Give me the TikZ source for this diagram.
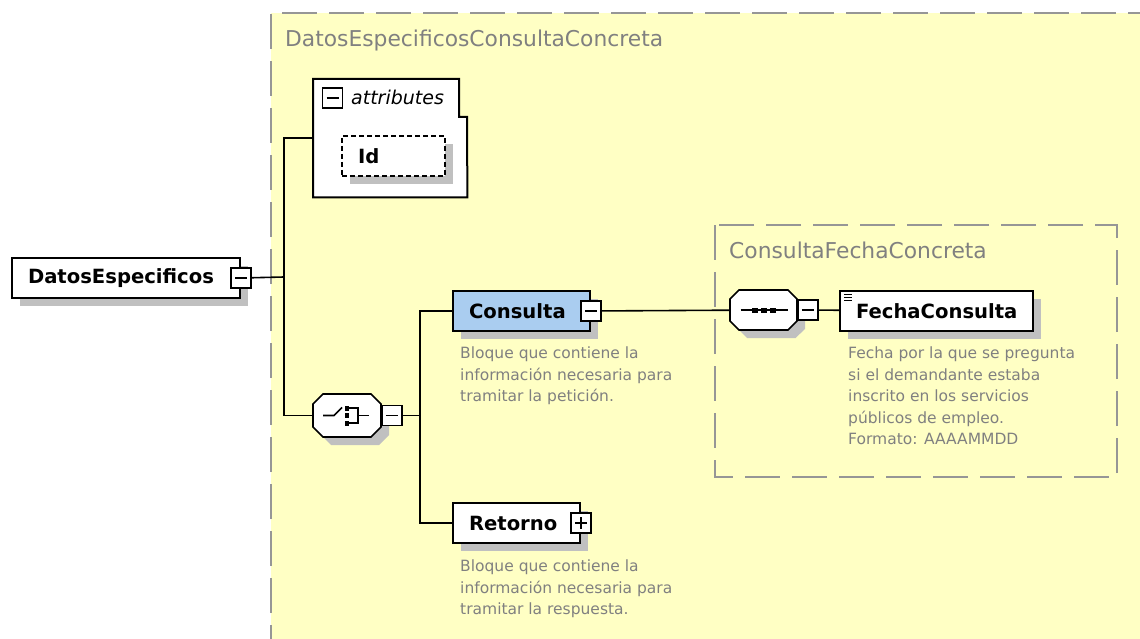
\documentclass[tikz,border=0pt]{standalone}
\usepackage{fontspec}
\setmainfont{DejaVu Sans}
\usetikzlibrary{shadows}

\definecolor{paneyellow}{RGB}{255,255,196}
\definecolor{panegray}{RGB}{150,150,150}
\definecolor{textgray}{RGB}{128,128,128}
\definecolor{shadowgray}{RGB}{192,192,192}
\definecolor{selblue}{RGB}{170,205,240}

\newcommand{\elemfont}{\bfseries\fontsize{19.6}{22}\selectfont}
\newcommand{\typefont}{\fontsize{21.8}{24}\selectfont}
\newcommand{\notefont}{\fontsize{15.5}{21.5}\selectfont}

\begin{document}
\begin{tikzpicture}[x=1pt,y=-1pt]
        \tikzstyle{elem_style} = [draw, fill=white, line width=2pt, minimum height=40pt, inner xsep=16pt, inner ysep=0pt, align=left, font=\elemfont, drop shadow={shadow xshift=8pt, shadow yshift=-8pt, opacity=1, fill=shadowgray}]
        \tikzstyle{group_style} = [inner sep=0pt, outer sep=0pt]
        \tikzstyle{minus_style} = [draw, fill=white, line width=1.6pt, minimum size=20pt, inner sep=0pt, path picture={\draw[line width=1.6pt] ([xshift=4pt]path picture bounding box.west) -- ([xshift=-4pt]path picture bounding box.east);}]
        \tikzstyle{plus_style} = [draw, fill=white, line width=1.6pt, minimum size=20pt, inner sep=0pt, path picture={\draw[line width=1.6pt] ([xshift=4pt]path picture bounding box.west) -- ([xshift=-4pt]path picture bounding box.east) ([yshift=-4pt]path picture bounding box.north) -- ([yshift=4pt]path picture bounding box.south);}]
        \tikzstyle{note_style} = [anchor=north west, inner sep=0pt, align=left, text=textgray, font=\notefont]
        \tikzstyle{title_style} = [anchor=base west, inner sep=0pt, text=textgray, font=\typefont]
        \tikzstyle{line_style} = [black, line width=1.6pt]
        \tikzstyle{pane_style} = [panegray, line width=2pt, dash pattern=on 35pt off 12pt]

        \useasboundingbox (0,0) rectangle (1140,639);

        % The yellow pane of the complex type
        \fill[paneyellow] (271,13) rectangle (1140,639);
        \draw[pane_style] (271,660) -- (271,13) -- (1160,13);
        \node[title_style] (t1) at (285,47) {DatosEspecificosConsultaConcreta};

        % The inner pane round the sequence
        \draw[pane_style] (715,225) rectangle (1117,477);
        \node[title_style] (t2) at (729,258) {ConsultaFechaConcreta};

        % Root element on the left
        \node[elem_style, anchor=north west, text width=196pt] (n1) at (11,257) {DatosEspecificos};
        \node[minus_style] (m1) at (n1.east) {};
        \coordinate (j1) at (284,277);

        % Attributes box at the top
        \node[inner sep=0pt, minimum width=154pt, minimum height=118pt, anchor=north west] (n2) at (313,79) {};
        \draw[line_style, line width=2pt, fill=white] (n2.south west) -- (n2.north west) -- ++(146,0) -- ++(0,38) -- ++(8,0) -- (n2.south east) -- cycle;
        \node[minus_style] (m2) at (332.5,98) {};
        \node[anchor=base west, inner sep=0pt, font=\itshape\fontsize{19}{22}\selectfont] (a2) at (351,105) {attributes};
        \node[elem_style, anchor=north west, text width=71pt, dash pattern=on 5pt off 3pt] (n3) at (341,135) {Id};

        % Choice in the middle
        \node[group_style, minimum width=68pt, minimum height=43pt] (n4) at (347,415.5) {};
        \coordinate (j2) at (420,415.5);
        \begin{scope}[shift={(n4.center)}, line width=1.6pt]
                \fill[shadowgray] (-26,-3.5) -- (-16,-13.5) -- (32,-13.5) -- (42,-3.5) -- (42,19.5) -- (32,29.5) -- (-16,29.5) -- (-26,19.5) -- cycle;
                \draw[fill=white] (-34,-11.5) -- (-24,-21.5) -- (24,-21.5) -- (34,-11.5) -- (34,11.5) -- (24,21.5) -- (-24,21.5) -- (-34,11.5) -- cycle;
                \draw (-24,0) -- (-13,0) -- (-5,-8);
                \fill (-2,-10) rectangle (2,-5);
                \fill (-2,-2.5) rectangle (2,2.5);
                \fill (-2,5) rectangle (2,10);
                \draw (2,-7.5) -- (11,-7.5) -- (11,7.5) -- (2,7.5);
                \draw (11,0) -- (22,0);
        \end{scope}
        \node[minus_style, anchor=west] (m4) at (n4.east) {};

        \draw[line_style] (m1) -- (j1);
        \draw[line_style] (n2.west) -| (j1) |- (n4.west);

        % Then the two children of the choice
        \node[elem_style, anchor=north west, text width=105pt, fill=selblue] (n5) at (452,290) {Consulta};
        \node[minus_style] (m5) at (n5.east) {};
        \node[note_style] (d5) at (460,347) {Bloque que contiene la\\información necesaria para\\tramitar la petición.};

        \node[elem_style, anchor=north west, text width=95pt] (n6) at (452,502) {Retorno};
        \node[plus_style] (p6) at (n6.east) {};
        \node[note_style] (d6) at (460,560) {Bloque que contiene la\\información necesaria para\\tramitar la respuesta.};

        \draw[line_style] (m4) -- (j2);
        \draw[line_style] (n5.west) -| (j2) |- (n6.west);

        % Sequence and its element on the right
        \node[group_style, minimum width=67pt, minimum height=40pt] (n7) at (763.5,310) {};
        \begin{scope}[shift={(n7.center)}, line width=1.6pt]
                \fill[shadowgray] (-25.5,-3) -- (-16.5,-12) -- (32,-12) -- (41.5,-3) -- (41.5,19) -- (32,28) -- (-16.5,28) -- (-25.5,19) -- cycle;
                \draw[fill=white] (-33.5,-11) -- (-24.5,-20) -- (24.5,-20) -- (33.5,-11) -- (33.5,11) -- (24.5,20) -- (-24.5,20) -- (-33.5,11) -- cycle;
                \draw (-23,0) -- (24,0);
                \fill (-12,-2.5) rectangle (-6,2.5);
                \fill (-3,-2.5) rectangle (3,2.5);
                \fill (6,-2.5) rectangle (12,2.5);
        \end{scope}
        \node[minus_style, anchor=west] (m7) at (n7.east) {};

        \node[elem_style, anchor=north west, text width=161pt] (n8) at (839,290) {FechaConsulta};
        \begin{scope}[shift={(n8.north west)}, line width=1pt]
                \draw (5,4) -- (13,4) (5,7) -- (13,7) (5,10) -- (13,10);
        \end{scope}
        \node[note_style] (d8) at (848,347) {Fecha por la que se pregunta\\si el demandante estaba\\inscrito en los servicios\\públicos de empleo.\\Formato: AAAAMMDD};

        \draw[line_style] (m5) -- (n7);
        \draw[line_style] (m7) -- (n8);
\end{tikzpicture}
\end{document}
